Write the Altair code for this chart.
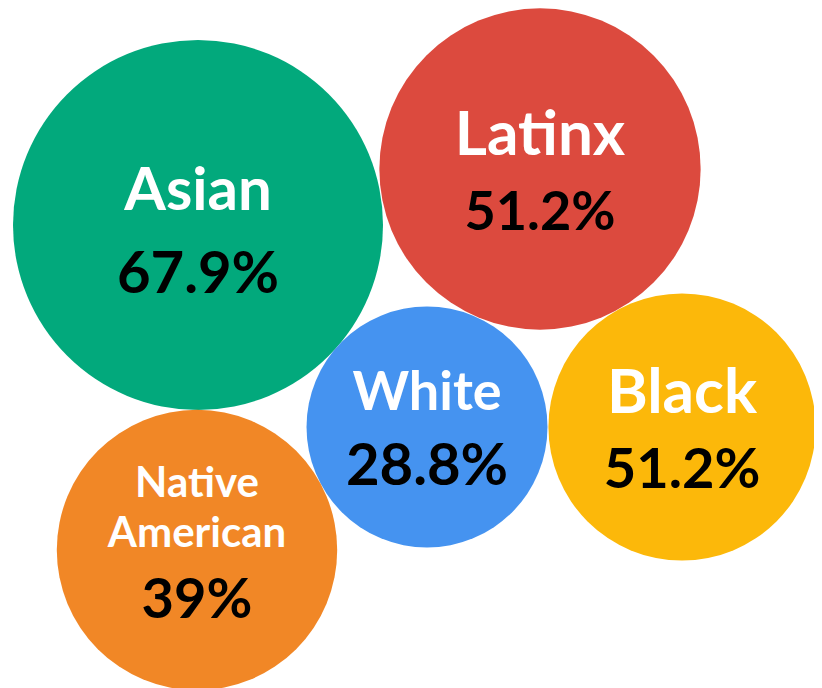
import altair as alt
import pandas as pd

# ---- data ----
groups = ["Asian", "Latinx", "White", "Black", "Native American"]
rate_labels = ["67.9%", "51.2%", "28.8%", "51.2%", "39%"]
bubble_size = [67.9, 51.2, 28.8, 35.4, 39.0]   # relative bubble areas as drawn
center_x = [198, 540, 427, 682, 197]
center_y = [225, 169, 427, 427, 550]
colors = ["#02a97c", "#dc4a3e", "#4593f0", "#fcb80a", "#f18726"]

# label lines per group (name may wrap)
name_lines = [["Asian"], ["Latinx"], ["White"], ["Black"], ["Native", "American"]]

# ---- layout (text placement relative to bubble centres) ----
name_font = [60, 62, 54, 62, 42]
value_font = [58, 54, 58, 56, 56]
name_offsets = [[-15], [-14], [-17], [-14], [-53, -3]]
value_offsets = [68, 61, 58, 61, 68]

bubbles = pd.DataFrame({
    "group": groups,
    "size": bubble_size,
    "cx": center_x,
    "cy": center_y,
    "color": colors,
})

rows = []
for i, g in enumerate(groups):
    for line, off in zip(name_lines[i], name_offsets[i]):
        rows.append({"text": line, "x": center_x[i], "y": center_y[i] + off,
                     "fs": name_font[i], "col": "#ffffff"})
    rows.append({"text": rate_labels[i], "x": center_x[i], "y": center_y[i] + value_offsets[i],
                 "fs": value_font[i], "col": "#000000"})
texts = pd.DataFrame(rows)

W, H = 806, 680
xs = alt.Scale(domain=[8, 8 + W], nice=False, zero=False)
ys = alt.Scale(domain=[8, 8 + H], nice=False, zero=False, reverse=True)

circles = alt.Chart(bubbles).mark_circle(opacity=1).encode(
    x=alt.X("cx:Q", scale=xs, axis=None),
    y=alt.Y("cy:Q", scale=ys, axis=None),
    size=alt.Size("size:Q", scale=alt.Scale(domain=[0, 67.9], range=[0, 136900], zero=True), legend=None),
    color=alt.Color("color:N", scale=None),
)

labels = alt.Chart(texts).mark_text(
    font="Lato", fontWeight="bold", align="center", baseline="alphabetic"
).encode(
    x=alt.X("x:Q", scale=xs, axis=None),
    y=alt.Y("y:Q", scale=ys, axis=None),
    text="text:N",
    size=alt.Size("fs:Q", scale=None),
    color=alt.Color("col:N", scale=None),
)

chart = (circles + labels).properties(
    width=W, height=H, padding=0, background="#ffffff",
    autosize=alt.AutoSizeParams(type="none")
).configure_view(stroke=None, strokeWidth=0)

chart.save("out.html", embed_options={"renderer": "svg", "actions": False})
